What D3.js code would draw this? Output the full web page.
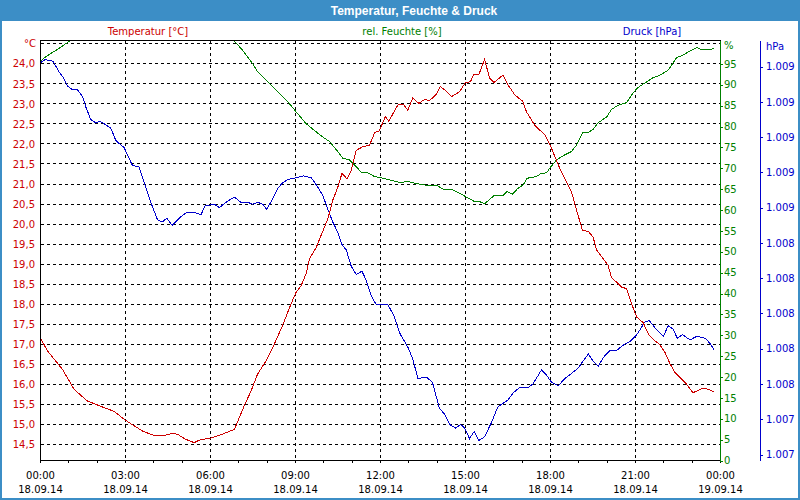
<!DOCTYPE html>
<html><head><meta charset="utf-8">
<script src="https://cdn.jsdelivr.net/npm/d3@7"></script>
<style>
html,body{margin:0;padding:0;background:#fff;}
svg{display:block;}
</style>
</head><body>
<svg id="chart" width="800" height="500"></svg>
<script>
// ---------- DATA ----------
const titleText = "Temperatur, Feuchte & Druck";
const seriesNames = ["Temperatur [°C]", "rel. Feuchte [%]", "Druck [hPa]"];

const tempHours = [0,0.26,0.79,1.03,1.20,1.67,2.20,2.62,2.97,3.32,3.62,3.97,4.32,4.68,4.85,5.15,5.44,5.68,5.97,6.44,6.86,7.21,7.45,7.68,7.98,8.27,8.56,8.86,9.04,9.22,9.39,9.51,9.75,9.92,10.16,10.33,10.51,10.66,10.83,10.98,11.16,11.39,11.63,11.81,11.98,12.19,12.31,12.63,12.83,12.98,13.16,13.37,13.57,13.75,13.99,14.13,14.34,14.52,14.81,15.01,15.19,15.31,15.49,15.69,15.87,16.02,16.34,16.52,16.76,17.03,17.17,17.46,17.82,17.99,18.35,18.58,18.76,18.94,19.15,19.35,19.52,19.64,19.88,20.05,20.17,20.35,20.53,20.70,20.88,21.06,21.29,21.47,21.64,21.88,22.06,22.24,22.41,22.65,22.82,23.04,23.18,23.39,23.59,23.80];
const tempValues = [17.18,16.84,16.38,16.09,15.88,15.59,15.44,15.33,15.13,14.97,14.84,14.74,14.72,14.78,14.76,14.63,14.55,14.63,14.65,14.76,14.88,15.47,15.84,16.26,16.59,17.01,17.47,18.01,18.30,18.47,18.76,19.13,19.42,19.72,20.13,20.59,20.92,21.27,21.13,21.33,21.84,21.93,21.97,22.28,22.33,22.68,22.57,22.97,22.99,22.84,23.15,23.01,23.11,23.08,23.24,23.43,23.32,23.18,23.30,23.53,23.55,23.73,23.73,24.11,23.64,23.53,23.72,23.47,23.22,23.07,22.80,22.47,22.22,22.00,21.38,21.05,20.80,20.34,19.84,19.82,19.68,19.36,19.13,18.97,18.67,18.55,18.43,18.39,18.01,17.68,17.54,17.26,17.13,16.99,16.80,16.51,16.30,16.13,16.01,15.80,15.83,15.91,15.88,15.81];

const humHours = [0,0.20,0.38,0.67,1.03,1.5,3.0,5.0,6.45,6.86,7.15,7.50,7.68,8.09,8.45,8.80,9.04,9.39,9.75,10.04,10.22,10.51,10.69,10.92,11.16,11.34,11.57,11.81,11.98,12.34,12.69,12.98,13.40,13.75,14.04,14.22,14.57,14.81,15.05,15.34,15.52,15.69,16.05,16.34,16.48,16.67,16.87,17.05,17.19,17.52,17.70,17.88,17.99,18.23,18.52,18.76,18.94,19.15,19.35,19.52,19.70,20.00,20.17,20.41,20.70,20.88,21.06,21.23,21.41,21.64,21.88,22.17,22.47,22.70,22.94,23.18,23.35,23.59,23.80];
const humValues = [95.5,96.7,97.5,98.7,100.4,102.5,104,104,102.5,100.4,98.3,95.1,93.1,90.3,87.9,85.5,83.5,80.7,78.7,77.2,76.4,74.0,72.4,72.0,70.4,69.0,68.9,68.0,67.8,67.2,66.6,66.8,66.2,65.8,65.8,65.0,64.8,64.0,63.1,62.0,62.0,61.5,63.6,63.4,64.4,63.8,65.2,66.0,67.6,68.0,68.8,68.9,70.0,72.0,73.2,74.0,75.6,78.5,78.6,79.3,80.9,82.3,84.1,85.1,85.7,87.5,89.1,89.9,90.7,91.7,92.3,93.5,96.5,97.1,98.1,98.9,98.4,98.4,98.7];

const pressHours = [0,0.18,0.46,0.67,0.81,0.97,1.14,1.32,1.50,1.62,1.79,1.97,2.12,2.32,2.50,2.68,2.97,3.26,3.50,3.68,3.91,4.15,4.32,4.48,4.66,4.91,5.15,5.50,5.68,5.83,6.15,6.33,6.56,6.86,7.09,7.33,7.50,7.68,7.86,8.00,8.21,8.39,8.56,8.74,9.04,9.31,9.57,9.75,9.98,10.16,10.33,10.51,10.66,10.81,10.98,11.16,11.36,11.51,11.69,11.87,12.28,12.51,12.69,12.87,12.98,13.16,13.34,13.63,13.85,14.10,14.28,14.46,14.67,14.85,14.99,15.16,15.32,15.49,15.69,15.93,16.16,16.34,16.52,16.70,16.93,17.23,17.40,17.70,17.88,18.05,18.29,18.52,18.76,18.99,19.35,19.52,19.70,19.88,20.11,20.35,20.58,20.82,21.06,21.23,21.32,21.50,21.70,22.00,22.17,22.35,22.49,22.68,22.94,23.18,23.47,23.65,23.80];
const pressValues = [1009.42,1009.44,1009.43,1009.37,1009.34,1009.29,1009.27,1009.27,1009.23,1009.17,1009.10,1009.08,1009.09,1009.07,1009.05,1008.98,1008.94,1008.84,1008.83,1008.74,1008.63,1008.53,1008.52,1008.54,1008.50,1008.54,1008.57,1008.57,1008.56,1008.61,1008.62,1008.60,1008.63,1008.66,1008.63,1008.63,1008.62,1008.63,1008.62,1008.59,1008.65,1008.71,1008.74,1008.76,1008.77,1008.78,1008.77,1008.73,1008.67,1008.59,1008.52,1008.46,1008.39,1008.36,1008.27,1008.22,1008.24,1008.19,1008.10,1008.05,1008.05,1007.98,1007.89,1007.84,1007.81,1007.74,1007.63,1007.64,1007.61,1007.46,1007.43,1007.37,1007.35,1007.37,1007.35,1007.29,1007.33,1007.28,1007.30,1007.38,1007.47,1007.49,1007.51,1007.55,1007.58,1007.58,1007.60,1007.68,1007.65,1007.61,1007.59,1007.63,1007.66,1007.69,1007.77,1007.73,1007.70,1007.75,1007.79,1007.79,1007.82,1007.84,1007.88,1007.92,1007.95,1007.96,1007.92,1007.87,1007.93,1007.91,1007.86,1007.88,1007.85,1007.87,1007.86,1007.83,1007.79];

const tempTicks = [14.5,15.0,15.5,16.0,16.5,17.0,17.5,18.0,18.5,19.0,19.5,20.0,20.5,21.0,21.5,22.0,22.5,23.0,23.5,24.0];
const tempUnitTick = 24.5;
const humTicks = [0,5,10,15,20,25,30,35,40,45,50,55,60,65,70,75,80,85,90,95];
const humUnitTick = 100;
const pressTicks = [1007.2,1007.4,1007.6,1007.8,1008.0,1008.2,1008.4,1008.6,1008.8,1009.0,1009.2,1009.4];
const hourTicks = [0,1,2,3,4,5,6,7,8,9,10,11,12,13,14,15,16,17,18,19,20,21,22,23,24];
const labelHours = [0,3,6,9,12,15,18,21,24];
const timeLabels = ["00:00","03:00","06:00","09:00","12:00","15:00","18:00","21:00","00:00"];
const dateLabels = ["18.09.14","18.09.14","18.09.14","18.09.14","18.09.14","18.09.14","18.09.14","18.09.14","19.09.14"];

// ---------- STYLE ----------
const RED = "#cc0000", GREEN = "#008000", BLUE = "#0000cc", FRAME = "#3c8ec6";
const FONT = "'DejaVu Sans', sans-serif";
const X0 = 40, X1 = 720, Y0 = 40, Y1 = 460;  // plot box (axis lines at +0.5)

const svg = d3.select("#chart");
const de = d3.formatLocale({decimal: ",", thousands: ".", grouping: [3], currency: ["", "€"]});
const fTemp = de.format(".1f");
const fPress = de.format(",.0f");

// frame & title
svg.append("rect").attr("x",1).attr("y",1).attr("width",798).attr("height",498)
  .attr("fill","#fff").attr("stroke",FRAME).attr("stroke-width",2);
svg.append("rect").attr("x",0).attr("y",0).attr("width",800).attr("height",21).attr("fill",FRAME);
svg.append("text").attr("x",414).attr("y",14.5).attr("text-anchor","middle")
  .attr("fill","#fff").attr("font-family","'Liberation Sans', Arial, sans-serif")
  .attr("font-weight","bold").attr("font-size",12).text(titleText);

// scales
const x = d3.scaleLinear().domain([0,24]).range([X0, X1]);
const yT = d3.scaleLinear().domain([14.104, 24.58]).range([Y1 + 0.5, Y0 + 0.5]);
const yH = d3.scaleLinear().domain([0, 100.6]).range([Y1 + 0.5, Y0 + 0.5]);
const yP = d3.scaleLinear().domain([1007.166, 1009.548]).range([Y1 + 0.5, Y0 + 0.5]);

// series headers
const headX = [148, 402, 652], headC = [RED, GREEN, BLUE];
seriesNames.forEach((s,i) => {
  svg.append("text").attr("x",headX[i]).attr("y",35).attr("text-anchor","middle")
    .attr("fill",headC[i]).attr("font-family",FONT).attr("font-size",10).text(s);
});

// grid
const grid = svg.append("g").attr("stroke","#000").attr("stroke-dasharray","3,3")
  .attr("shape-rendering","crispEdges");
tempTicks.concat([tempUnitTick]).forEach(v => {
  const yy = Math.floor(yT(v)) + 0.5;
  grid.append("line").attr("x1",X0+1).attr("x2",X1).attr("y1",yy).attr("y2",yy);
});
labelHours.slice(1,-1).forEach(h => {
  const xx = Math.floor(x(h)) + 0.5;
  grid.append("line").attr("x1",xx).attr("x2",xx).attr("y1",Y0+1).attr("y2",Y1);
});

// plot series
svg.append("clipPath").attr("id","clip").append("rect")
  .attr("x",X0+1).attr("y",Y0+1).attr("width",X1-X0-1).attr("height",Y1-Y0-1);
const plot = svg.append("g").attr("clip-path","url(#clip)");
function drawLine(hours, vals, yScale, color){
  const pts = hours.map((h,i) => [h, vals[i]]);
  plot.append("path").datum(pts)
    .attr("fill","none").attr("stroke",color).attr("stroke-width",1)
    .attr("shape-rendering","crispEdges")
    .attr("d", d3.line().x(d => x(d[0])).y(d => yScale(d[1])));
}
drawLine(pressHours, pressValues, yP, BLUE);
drawLine(humHours, humValues, yH, GREEN);
drawLine(tempHours, tempValues, yT, RED);

// plot border top
svg.append("line").attr("x1",X0).attr("x2",X1+0.5).attr("y1",Y0+0.5).attr("y2",Y0+0.5)
  .attr("stroke","#000").attr("shape-rendering","crispEdges");

// left temperature axis
const gL = svg.append("g").attr("transform",`translate(${X0},0)`)
  .call(d3.axisLeft(yT).tickValues(tempTicks).tickSize(0).tickPadding(5).tickFormat(fTemp).tickSizeOuter(0));
gL.select(".domain").attr("stroke","#000").attr("shape-rendering","crispEdges");
gL.selectAll("text").attr("fill",RED).attr("font-family",FONT).attr("font-size",10);
gL.append("text").attr("x",-4).attr("y",yT(tempUnitTick)).attr("dy","0.35em")
  .attr("text-anchor","end").attr("fill",RED).attr("font-family",FONT).attr("font-size",10).text("°C");

// bottom axis
const gB = svg.append("g").attr("transform",`translate(0,${Y1})`)
  .call(d3.axisBottom(x).tickValues(hourTicks).tickSize(3).tickSizeOuter(0).tickFormat(""));
gB.select(".domain").attr("stroke","#000").attr("shape-rendering","crispEdges");
gB.selectAll(".tick line").attr("stroke","#000").attr("shape-rendering","crispEdges");
labelHours.forEach((h,i) => {
  const t = svg.append("text").attr("x",x(h)+0.5).attr("text-anchor","middle")
    .attr("fill","#000").attr("font-family",FONT).attr("font-size",10);
  t.append("tspan").attr("x",x(h)+0.5).attr("y",479).text(timeLabels[i]);
  t.append("tspan").attr("x",x(h)+0.5).attr("y",493).text(dateLabels[i]);
});

// right humidity axis
const gH = svg.append("g").attr("transform",`translate(${X1},0)`)
  .call(d3.axisRight(yH).tickValues(humTicks).tickSize(3).tickPadding(1).tickSizeOuter(0).tickFormat(d3.format("d")));
gH.select(".domain").attr("stroke",GREEN).attr("shape-rendering","crispEdges");
gH.selectAll(".tick line").attr("stroke",GREEN).attr("shape-rendering","crispEdges");
gH.selectAll("text").attr("fill",GREEN).attr("font-family",FONT).attr("font-size",10);
gH.append("text").attr("x",4).attr("y",yH(humUnitTick)+2).attr("dy","0.35em")
  .attr("fill",GREEN).attr("font-family",FONT).attr("font-size",10).text("%");

// pressure axis
const gP = svg.append("g").attr("transform",`translate(760,0)`)
  .call(d3.axisRight(yP).tickValues(pressTicks).tickSize(3).tickPadding(3).tickSizeOuter(0).tickFormat(fPress));
gP.select(".domain").attr("stroke",BLUE).attr("shape-rendering","crispEdges");
gP.selectAll(".tick line").attr("stroke",BLUE).attr("shape-rendering","crispEdges");
gP.selectAll("text").attr("fill",BLUE).attr("font-family",FONT).attr("font-size",10);
gP.append("text").attr("x",6).attr("y",46).attr("dy","0.35em")
  .attr("fill",BLUE).attr("font-family",FONT).attr("font-size",10).text("hPa");
</script>
</body></html>
